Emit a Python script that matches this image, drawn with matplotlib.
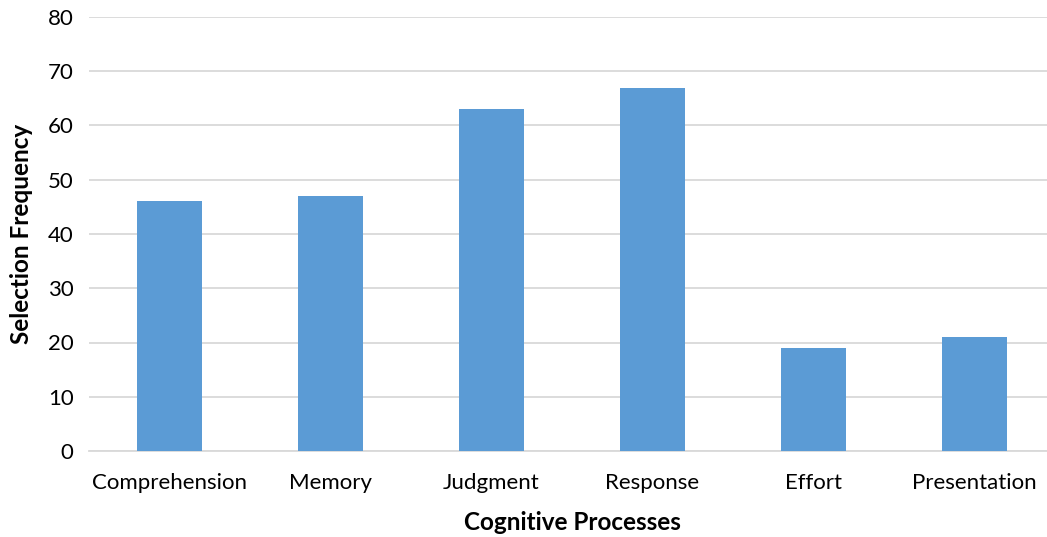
import numpy as np
import matplotlib.pyplot as plt

categories = ['Comprehension', 'Memory', 'Judgment', 'Response', 'Effort', 'Presentation']
frequency = [46, 47, 63, 67, 19, 21]

plt.rcParams['font.family'] = ['Lato', 'DejaVu Sans']

fig = plt.figure(figsize=(10.47, 5.37), dpi=100)
ax = fig.add_axes([89 / 1047, 86 / 537, 966 / 1047, 434 / 537])

ind = np.arange(len(categories))
ax.bar(ind, frequency, width=0.4, color='#5B9BD5', zorder=3)

ax.set_xlim(-0.5, len(categories) - 0.5)
ax.set_ylim(0, 80)
ax.set_yticks(np.arange(0, 81, 10))
ax.set_xticks(ind)
ax.set_xticklabels(categories)
ax.tick_params(axis='both', length=0, labelsize=16, colors='#000000')
ax.tick_params(axis='y', pad=11)
ax.tick_params(axis='x', pad=16)

ax.grid(axis='y', color='#D9D9D9', linewidth=1.3, zorder=0)
for side in ['top', 'right', 'left']:
    ax.spines[side].set_visible(False)
ax.spines['bottom'].set_color('#D9D9D9')
ax.spines['bottom'].set_linewidth(1.3)

ax.set_xlabel('Cognitive Processes', fontsize=17.5, fontweight='bold', labelpad=13)
ax.set_ylabel('Selection Frequency', fontsize=17.5, fontweight='bold', labelpad=11)

fig.savefig('out.png', dpi=100)
